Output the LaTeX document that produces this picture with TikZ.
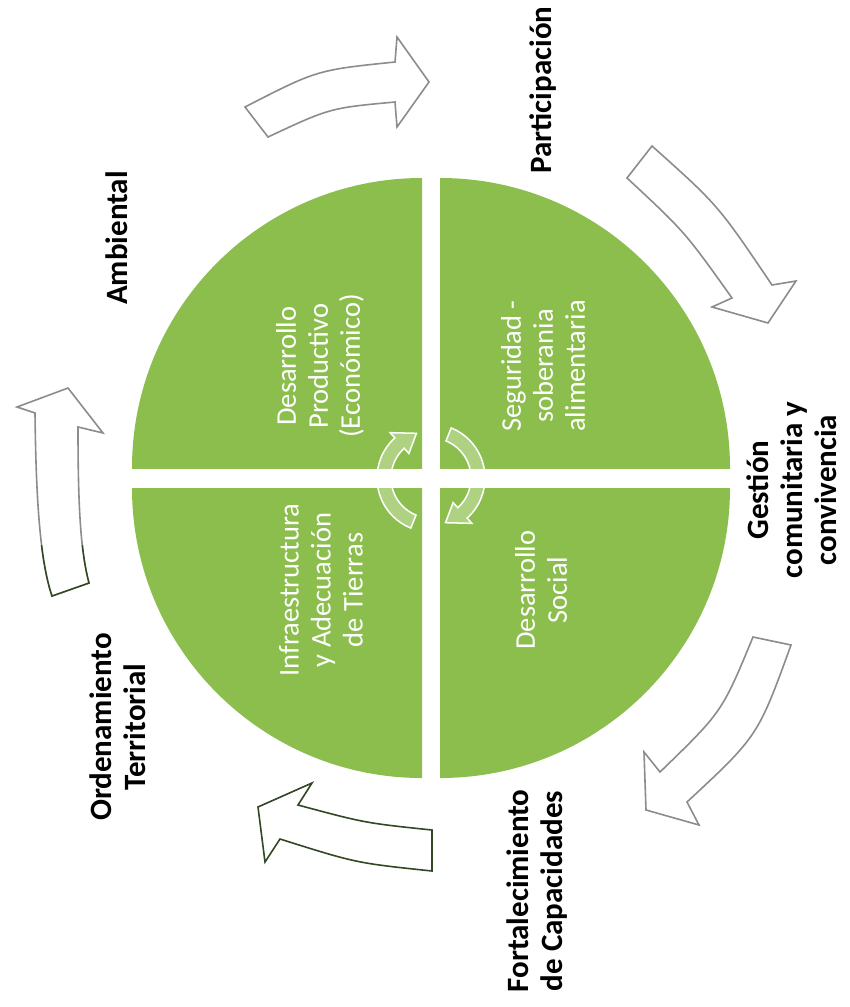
\documentclass[tikz,border=0pt]{standalone}
\usepackage{fontspec}
\setmainfont{Carlito}
\definecolor{leaf}{RGB}{139,190,77}
\definecolor{edgegray}{RGB}{140,140,140}
\definecolor{edgegreen}{RGB}{50,72,36}
\tikzset{
  quad/.style={fill=leaf},
  qtext/.style={white, rotate=90, align=center, font=\fontsize{28.5}{32}\selectfont},
  outtext/.style={black, rotate=90, align=center, font=\bfseries\fontsize{31}{34}\selectfont},
  blockarrow/.style={draw=edgegray, fill=white, line width=1.6pt},
  darkarrow/.style={blockarrow, draw=edgegreen},
  cyc/.style={draw=white, fill=white, fill opacity=0.3, line width=1.5pt}
}

\begin{document}
\begin{tikzpicture}[x=1pt,y=-1pt]
    \useasboundingbox (0,0) rectangle (850,1007);
    % quadrants
    \foreach \cx/\cy/\ex/\ey in {422/468/0/0, 440/468/850/0, 422/488/0/1007, 440/488/850/1007}{
      \begin{scope}
        \clip (\cx,\cy) rectangle (\ex,\ey);
        \fill[quad] (\cx,\cy) circle[radius=290];
      \end{scope}
    }
    % centre cycle
    \begin{scope}[shift={(431,478)}]
      \draw[cyc] (112:54) arc[start angle=112, end angle=228, radius=54] -- (228:61) -- (252:47) -- (228:33) -- (228:40) arc[start angle=228, end angle=112, radius=40] -- cycle;
      \draw[cyc] (292:54) arc[start angle=292, end angle=408, radius=54] -- (408:61) -- (432:47) -- (408:33) -- (408:40) arc[start angle=408, end angle=292, radius=40] -- cycle;
    \end{scope}
    \node[qtext] (productivo) at (320,366) {Desarrollo\\Productivo\\(Económico)};
    \node[qtext] (seguridad) at (543,366) {Seguridad -\\soberania\\alimentaria};
    \node[qtext] (infraestructura) at (321,590) {Infraestructura\\y Adecuación\\de Tierras};
    \node[qtext] (social) at (541,590) {Desarrollo\\Social};
    \node[outtext] (ambiental) at (117,238) {Ambiental};
    \node[outtext] (participacion) at (543,90) {Participación};
    \node[outtext] (gestion) at (792,490) {Gestión\\comunitaria y\\convivencia};
    \node[outtext] (fortalecimiento) at (537,891) {Fortalecimiento\\de Capacidades};
    \node[outtext] (ordenamiento) at (118,727) {Ordenamiento\\Territorial};
    % block arrows
    \draw[blockarrow] (245,107) .. controls (317,70) .. (395,62) -- (397,37) -- (429,82) -- (397,127) -- (395,102) .. controls (330,108) .. (268,137) -- cycle;
    \draw[blockarrow] (652,146) .. controls (718,205) .. (772,285) -- (796,281) -- (768,323) -- (712,307) -- (732,298) .. controls (685,232) .. (627,178) -- cycle;
    \draw[blockarrow] (753,637) .. controls (722,712) .. (660,772) -- (644,752) -- (646,810) -- (699,825) -- (687,802) .. controls (758,736) .. (791,645) -- cycle;
    \draw[darkarrow] (312,783) -- (298,805) .. controls (365,823) .. (432,830) -- (432,871) .. controls (356,863) .. (280,839) -- (265,862) -- (258,807) -- cycle;
    \draw[blockarrow] (68,388) -- (103,433) -- (78,427) .. controls (78,500) and (80,550) .. (89,583) -- (52,596) .. controls (40,560) and (36,500) .. (35,413) -- (17,407) -- cycle;
    \begin{scope}
      \clip (0,545) rectangle (140,640);
      \draw[darkarrow] (68,388) -- (103,433) -- (78,427) .. controls (78,500) and (80,550) .. (89,583) -- (52,596) .. controls (40,560) and (36,500) .. (35,413) -- (17,407) -- cycle;
    \end{scope}
\end{tikzpicture}
\end{document}
